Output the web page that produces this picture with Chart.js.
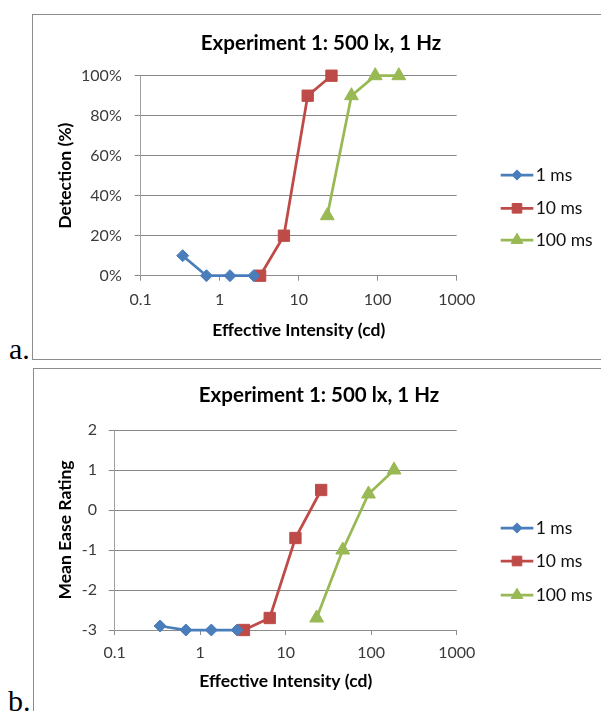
<!DOCTYPE html>
<html>
<head>
<meta charset="utf-8">
<script src="https://cdn.jsdelivr.net/npm/chart.js@4.4.0/dist/chart.umd.min.js"></script>
<style>
    body { margin: 0; background: #fff; width: 601px; height: 711px; overflow: hidden; position: relative; }
    .panel { position: absolute; border: 1px solid #8c8c8c; background: #fff; }
    #panelA { left: 32px; top: 14px; width: 620px; height: 344px; }
    #panelB { left: 33px; top: 368px; width: 620px; height: 400px; }
    .lbl { position: absolute; font-family: 'Liberation Serif', serif; font-size: 30px; color: #000; line-height: 1; }
    canvas { position: absolute; }
    #chartA { left: 33px; top: 15px; }
    #chartB { left: 34px; top: 369px; }
</style>
</head>
<body>
<div class="panel" id="panelA"></div>
<div class="panel" id="panelB"></div>
<div class="lbl" style="left:9px; top:334px;">a.</div>
<div class="lbl" style="left:8px; top:686px;">b.</div>
<canvas id="chartA" width="568" height="343"></canvas>
<canvas id="chartB" width="567" height="342"></canvas>

<script>
// Dữ liệu
const chartTitle = 'Experiment 1: 500 lx, 1 Hz';
const seriesNames = ['1 ms', '10 ms', '100 ms'];
const xTicks = [0.1, 1, 10, 100, 1000];
const xTickLabels = ['0.1', '1', '10', '100', '1000'];

const x1ms = [0.34, 0.68, 1.35, 2.7];
const x10ms = [3.25, 6.5, 13, 26];
const x100ms = [23, 46.5, 93, 185];

const detect1ms = [10, 0, 0, 0];
const detect10ms = [0, 20, 90, 100];
const detect100ms = [30, 90, 100, 100];
const detectTicks = [0, 20, 40, 60, 80, 100];
const detectTickLabels = ['0%', '20%', '40%', '60%', '80%', '100%'];

const ease1ms = [-2.9, -3, -3, -3];
const ease10ms = [-3, -2.7, -0.7, 0.5];
const ease100ms = [-2.7, -1, 0.4, 1];
const easeTicks = [-3, -2, -1, 0, 1, 2];
const easeTickLabels = ['-3', '-2', '-1', '0', '1', '2'];

const FONT = 'Lato, "Open Sans", sans-serif';
const styles = [
    { color: '#4a7ebb', pointStyle: 'rectRot', radius: 6 },
    { color: '#be4b48', pointStyle: 'rect', radius: 8 },
    { color: '#98b954', pointStyle: 'triangle', radius: 8 }
];

function toPoints(xs, ys) {
    return xs.map((x, i) => ({ x: x, y: ys[i] }));
}

// Tiêu đề + legend vẽ tay (đường + marker + chữ)
const lineLegend = {
    id: 'lineLegend',
    afterDraw(chart, args, opts) {
        const ctx = chart.ctx;
        ctx.save();
        ctx.fillStyle = '#000';
        ctx.font = 'bold 20.5px ' + FONT;
        ctx.textAlign = 'center';
        ctx.textBaseline = 'middle';
        ctx.fillText(chartTitle, opts.titleX, opts.titleY);

        chart.data.datasets.forEach((ds, i) => {
            const y = opts.rows[i];
            ctx.strokeStyle = ds.borderColor;
            ctx.fillStyle = ds.borderColor;
            ctx.lineWidth = ds.borderWidth;
            ctx.beginPath();
            ctx.moveTo(opts.x0, y);
            ctx.lineTo(opts.x1, y);
            ctx.stroke();
            ctx.lineWidth = 1;
            Chart.helpers.drawPoint(ctx, {
                pointStyle: ds.pointStyle, rotation: 0,
                radius: ds.pointRadius * 0.85, borderWidth: 1
            }, (opts.x0 + opts.x1) / 2, y);
            ctx.fillStyle = '#111';
            ctx.font = '17.5px ' + FONT;
            ctx.textBaseline = 'middle';
            ctx.textAlign = 'left';
            ctx.fillText(ds.label, opts.textX, y);
        });
        ctx.restore();
    }
};

function renderChart(canvasId, ySeries, yCfg, g) {
    const xSeries = [x1ms, x10ms, x100ms];
    const datasets = seriesNames.map((name, i) => ({
        label: name,
        data: toPoints(xSeries[i], ySeries[i]),
        borderColor: styles[i].color,
        backgroundColor: styles[i].color,
        borderWidth: 2.75,
        pointStyle: styles[i].pointStyle,
        pointRadius: styles[i].radius,
        pointBorderWidth: 1,
        pointBackgroundColor: styles[i].color,
        pointBorderColor: styles[i].color,
        tension: 0,
        clip: false
    }));

    return new Chart(document.getElementById(canvasId), {
        type: 'line',
        data: { datasets: datasets },
        options: {
            responsive: false,
            animation: false,
            devicePixelRatio: 1,
            layout: { padding: { left: 0, top: g.plotTop, right: g.padRight, bottom: 0 } },
            plugins: {
                legend: { display: false },
                tooltip: { enabled: false },
                title: { display: false },
                lineLegend: g.legend
            },
            scales: {
                x: {
                    type: 'logarithmic',
                    min: 0.1,
                    max: 1000,
                    afterBuildTicks: s => { s.ticks = xTicks.map(v => ({ value: v })); },
                    afterFit: s => { s.height = g.xAxisHeight; },
                    grid: { drawOnChartArea: false, drawTicks: true, tickLength: 5, color: '#8c8c8c' },
                    border: { display: true, color: '#8c8c8c', width: 1 },
                    ticks: {
                        padding: g.xTickPad,
                        maxRotation: 0,
                        color: '#3a3a3a',
                        font: { family: FONT, size: 16 },
                        callback: (v) => xTickLabels[xTicks.indexOf(v)] ?? ''
                    },
                    title: {
                        display: true,
                        text: 'Effective Intensity (cd)',
                        color: '#000',
                        font: { family: FONT, size: 17.5, weight: 'bold', lineHeight: 1.2 },
                        padding: { top: 0, bottom: g.xTitlePad }
                    }
                },
                y: {
                    min: yCfg.ticks[0],
                    max: yCfg.ticks[yCfg.ticks.length - 1],
                    afterBuildTicks: s => { s.ticks = yCfg.ticks.map(v => ({ value: v })); },
                    afterFit: s => { s.width = g.yAxisWidth; },
                    grid: { color: '#868686', lineWidth: 1, tickLength: 6 },
                    border: { display: true, color: '#a0a0a0', width: 1 },
                    ticks: {
                        padding: g.yTickPad,
                        color: '#3a3a3a',
                        font: { family: FONT, size: 16 },
                        callback: (v) => yCfg.labels[yCfg.ticks.indexOf(v)] ?? ''
                    },
                    title: {
                        display: true,
                        text: yCfg.title,
                        color: '#000',
                        font: { family: FONT, size: 17.5, weight: 'bold', lineHeight: 1.2 },
                        padding: { top: g.yTitlePad, bottom: 0 }
                    }
                }
            }
        },
        plugins: [lineLegend]
    });
}

renderChart('chartA', [detect1ms, detect10ms, detect100ms],
    { ticks: detectTicks, labels: detectTickLabels, title: 'Detection (%)' },
    {
        plotTop: 60.7, padRight: 144.3,
        xAxisHeight: 82.3, yAxisWidth: 107.7,
        xTickPad: 9.7, xTitlePad: 17.5, yTickPad: 13, yTitlePad: 21.5,
        legend: { titleX: 288, titleY: 28, x0: 467.7, x1: 500.3, textX: 502.7, rows: [160, 193.3, 225] }
    });

renderChart('chartB', [ease1ms, ease10ms, ease100ms],
    { ticks: easeTicks, labels: easeTickLabels, title: 'Mean Ease Rating' },
    {
        plotTop: 61, padRight: 144.3,
        xAxisHeight: 81, yAxisWidth: 80.7,
        xTickPad: 8.4, xTitlePad: 18.8, yTickPad: 11.7, yTitlePad: 20.5,
        legend: { titleX: 285, titleY: 26, x0: 466.7, x1: 499.3, textX: 501.7, rows: [159, 192, 226] }
    });
</script>
</body>
</html>
